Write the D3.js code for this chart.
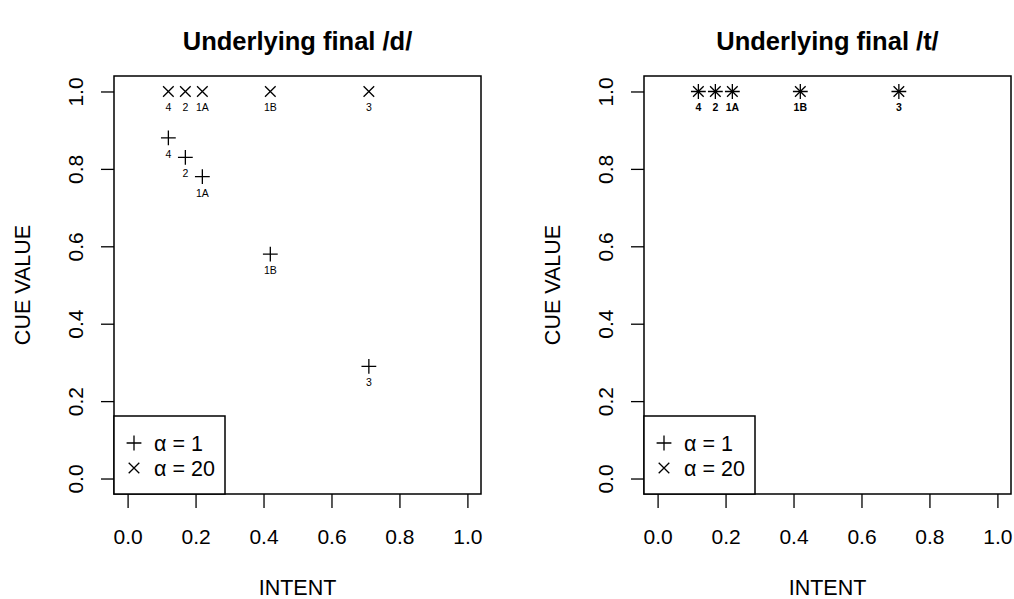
<!DOCTYPE html>
<html>
<head>
<meta charset="utf-8">
<script src="https://cdn.jsdelivr.net/npm/d3@7"></script>
<style>
  body { margin: 0; background: #fff; }
  svg { font-family: "Liberation Sans", Arial, sans-serif; }
</style>
</head>
<body>
<div id="chart"></div>
<script>
// data
const groups = ["4", "2", "1A", "1B", "3"];
const intent = [0.12, 0.17, 0.22, 0.42, 0.71];
const cueD_alpha1 = [0.88, 0.83, 0.78, 0.58, 0.29];
const cueD_alpha20 = [1, 1, 1, 1, 1];
const cueT_alpha1 = [1, 1, 1, 1, 1];
const cueT_alpha20 = [1, 1, 1, 1, 1];
const tickValues = [0, 0.2, 0.4, 0.6, 0.8, 1.0];
const panelTitles = ["Underlying final /d/", "Underlying final /t/"];
const legendLabels = ["\u03b1 = 1", "\u03b1 = 20"];

const W = 1014, H = 599;
const plotW = 367, plotH = 418, plotTop = 76;
const panelLeft = [114, 644];
const fs = 21.5;

const svg = d3.select("#chart").append("svg")
    .attr("width", W).attr("height", H);

const x = d3.scaleLinear().domain([-0.04, 1.04]).range([0, plotW]);
const y = d3.scaleLinear().domain([-0.04, 1.04]).range([plotH, 0]);

// symbol path generators (R pch 3, 4, 8)
const plusPath = r => `M${-r},0H${r}M0,${-r}V${r}`;
const crossPath = r => `M${-r},${-r}L${r},${r}M${-r},${r}L${r},${-r}`;

function drawPanel(i, alpha1, alpha20, star) {
    const g = svg.append("g").attr("transform", `translate(${panelLeft[i]},${plotTop})`);

    // x axis
    const xa = g.append("g")
        .attr("transform", `translate(0,${plotH})`)
        .call(d3.axisBottom(x).tickValues(tickValues).tickFormat(d3.format(".1f"))
            .tickSize(14).tickPadding(21));
    xa.select(".domain").remove();
    xa.selectAll("line").attr("stroke", "#000").attr("stroke-width", 1.3);
    xa.selectAll("text").attr("font-size", 21).attr("font-family", "Liberation Sans, Arial, sans-serif").attr("fill", "#000");

    // y axis
    const ya = g.append("g")
        .call(d3.axisLeft(y).tickValues(tickValues).tickFormat(d3.format(".1f")).tickSize(13));
    ya.select(".domain").remove();
    ya.selectAll("line").attr("stroke", "#000").attr("stroke-width", 1.3);
    ya.selectAll("text")
        .attr("transform", "rotate(-90)")
        .attr("x", 0).attr("y", -39).attr("dy", "0.36em")
        .style("text-anchor", "middle")
        .attr("font-size", 21).attr("font-family", "Liberation Sans, Arial, sans-serif").attr("fill", "#000");

    // box
    g.append("rect")
        .attr("width", plotW).attr("height", plotH)
        .attr("fill", "none").attr("stroke", "#000").attr("stroke-width", 1.5);

    // titles
    g.append("text")
        .attr("x", plotW / 2).attr("y", 50 - plotTop)
        .attr("text-anchor", "middle")
        .attr("font-size", 25.5).attr("font-weight", "bold")
        .text(panelTitles[i]);
    g.append("text")
        .attr("x", plotW / 2).attr("y", 595 - plotTop)
        .attr("text-anchor", "middle")
        .attr("font-size", fs)
        .text("INTENT");
    g.append("text")
        .attr("transform", `translate(-84,${plotH / 2}) rotate(-90)`)
        .attr("text-anchor", "middle")
        .attr("font-size", fs)
        .text("CUE VALUE");

    const pts1 = intent.map((d, k) => ({ x: d, y: alpha1[k], label: groups[k] }));
    const pts20 = intent.map((d, k) => ({ x: d, y: alpha20[k], label: groups[k] }));

    // alpha = 20 points (x)
    g.selectAll(".p20").data(pts20).enter().append("path")
        .attr("class", "p20")
        .attr("transform", d => `translate(${x(d.x)},${y(d.y)})`)
        .attr("d", crossPath(5.3))
        .attr("stroke", "#000").attr("stroke-width", 1.3).attr("fill", "none");
    // alpha = 1 points (+)
    g.selectAll(".p1").data(pts1).enter().append("path")
        .attr("class", "p1")
        .attr("transform", d => `translate(${x(d.x)},${y(d.y)})`)
        .attr("d", plusPath(7.4))
        .attr("stroke", "#000").attr("stroke-width", 1.3).attr("fill", "none");

    // point labels
    const labelPts = star ? pts20 : pts1.concat(pts20);
    g.selectAll(".lbl").data(labelPts).enter().append("text")
        .attr("class", "lbl")
        .attr("x", d => x(d.x)).attr("y", d => y(d.y) + 20)
        .attr("text-anchor", "middle")
        .attr("font-size", 10.5)
        .attr("font-weight", star ? "bold" : "normal")
        .text(d => d.label);

    // legend
    const lg = g.append("g").attr("transform", `translate(0,${416 - plotTop})`);
    lg.append("rect")
        .attr("width", 111).attr("height", plotH - (416 - plotTop))
        .attr("fill", "#fff").attr("stroke", "#000").attr("stroke-width", 1.5);
    lg.append("path").attr("transform", "translate(20,27)").attr("d", plusPath(7.4))
        .attr("stroke", "#000").attr("stroke-width", 1.3);
    lg.append("path").attr("transform", "translate(20,52)").attr("d", crossPath(5.3))
        .attr("stroke", "#000").attr("stroke-width", 1.3);
    lg.selectAll(".lt").data(legendLabels).enter().append("text")
        .attr("class", "lt")
        .attr("x", 40).attr("y", (d, k) => 34.5 + k * 25)
        .attr("font-size", fs)
        .text(d => d);
}

drawPanel(0, cueD_alpha1, cueD_alpha20, false);
drawPanel(1, cueT_alpha1, cueT_alpha20, true);
</script>
</body>
</html>
